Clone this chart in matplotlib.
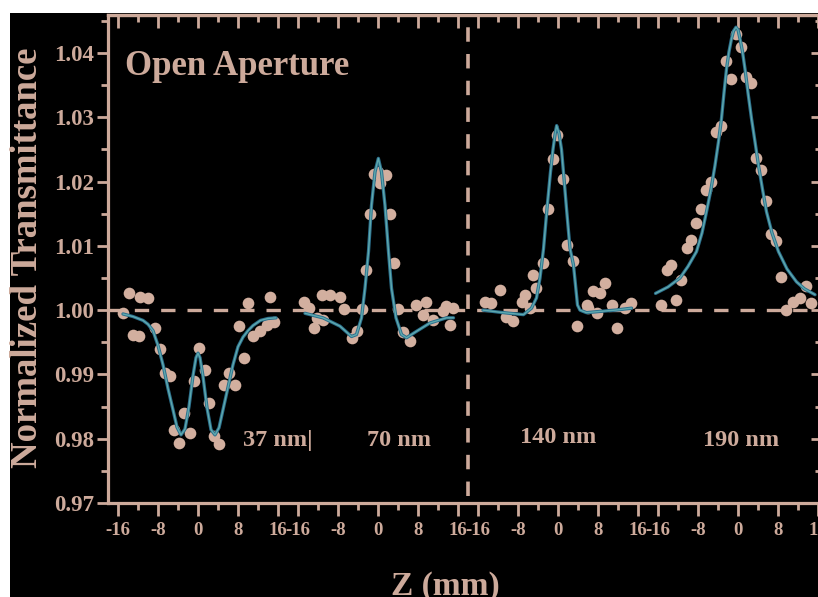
import matplotlib
matplotlib.use("Agg")
import matplotlib.pyplot as plt
from matplotlib.patches import Rectangle
from matplotlib.ticker import FixedLocator, FixedFormatter

# ---------------- data (z in mm, normalized transmittance) ----------------
panel_names = ["37 nm", "70 nm", "140 nm", "190 nm"]
panel_offsets = [16, 52, 88, 124]          # position of z=0 of each panel on the joined axis

p1_z = [-15.0, -13.9, -13.0, -11.9, -11.6, -10.0, -8.6, -7.7, -6.6, -5.6, -4.9, -3.9, -2.9, -1.6,
        -0.9, 0.1, 1.4, 2.1, 3.1, 4.1, 5.1, 6.1, 7.4, 8.1, 9.1, 10.1, 11.1, 12.4, 13.7, 14.4, 15.1]
p1_t = [0.9995, 1.0026, 0.9962, 0.9960, 1.0021, 1.0019, 0.9972, 0.9940, 0.9902, 0.9897, 0.9814,
        0.9794, 0.9840, 0.9809, 0.9889, 0.9941, 0.9907, 0.9856, 0.9804, 0.9791, 0.9884, 0.9902,
        0.9884, 0.9975, 0.9926, 1.0011, 0.9959, 0.9967, 0.9977, 1.0021, 0.9982]

p2_z = [-14.9, -13.9, -12.9, -12.3, -11.3, -11.0, -9.6, -7.6, -6.9, -5.3, -4.3, -3.3, -2.4, -1.6,
        -0.9, 0.07, 0.4, 1.7, 2.4, 3.3, 4.1, 5.1, 6.4, 7.7, 9.1, 9.7, 11.1, 13.1, 13.7, 14.4, 15.1]
p2_t = [1.0013, 1.0003, 0.9972, 0.9988, 1.0024, 0.9985, 1.0024, 1.0021, 1.0002, 0.9957, 0.9968,
        1.0002, 1.0063, 1.0149, 1.0212, 1.0215, 1.0197, 1.0210, 1.0149, 1.0073, 1.0002, 0.9966,
        0.9952, 1.0008, 0.9993, 1.0013, 0.9985, 0.9998, 1.0006, 0.9977, 1.0003]

p3_z = [-14.6, -13.3, -11.6, -10.3, -8.9, -7.3, -6.6, -5.6, -5.1, -4.4, -2.9, -1.9, -1.1, -0.3,
        0.9, 1.7, 2.9, 3.7, 5.7, 6.1, 7.1, 7.7, 8.4, 9.4, 10.7, 11.7, 13.4, 14.7]
p3_t = [1.0013, 1.0011, 1.0032, 0.9990, 0.9983, 1.0013, 1.0024, 1.0003, 1.0055, 1.0034, 1.0074,
        1.0158, 1.0235, 1.0272, 1.0204, 1.0101, 1.0076, 0.9975, 1.0008, 1.0003, 1.0029, 0.9995,
        1.0026, 1.0042, 1.0008, 0.9972, 1.0003, 1.0011]

p4_z = [-15.3, -14.1, -13.3, -12.3, -11.3, -10.1, -9.3, -8.3, -7.3, -6.3, -5.3, -4.3, -3.3, -2.3,
        -1.3, -0.4, 0.7, 1.7, 2.7, 3.6, 4.7, 5.6, 6.7, 7.7, 8.7, 9.7, 11.1, 12.4, 13.7, 14.7]
p4_t = [1.0008, 1.0062, 1.0070, 1.0016, 1.0047, 1.0096, 1.0109, 1.0136, 1.0158, 1.0187, 1.0200,
        1.0277, 1.0287, 1.0388, 1.0360, 1.0429, 1.0409, 1.0362, 1.0354, 1.0236, 1.0218, 1.0170,
        1.0119, 1.0107, 1.0051, 1.0000, 1.0013, 1.0019, 1.0037, 1.0011]

# fitted curves
f1_z = [-15.0, -13.0, -11.0, -10.0, -9.0, -8.0, -7.0, -6.0, -5.0, -4.2, -3.4, -2.6, -1.8, -1.0,
        -0.4, 0.0, 0.4, 1.0, 1.8, 2.6, 3.4, 4.2, 5.0, 6.0, 7.0, 8.0, 9.0, 10.0, 11.0, 12.5, 14.0, 15.6]
f1_t = [0.9994, 0.9990, 0.9984, 0.9978, 0.9968, 0.9945, 0.9915, 0.9878, 0.9845, 0.9818, 0.9806,
        0.9815, 0.9850, 0.9898, 0.9926, 0.9933, 0.9926, 0.9897, 0.9848, 0.9814, 0.9806, 0.9817,
        0.9845, 0.9880, 0.9915, 0.9943, 0.9958, 0.9968, 0.9976, 0.9984, 0.9987, 0.9988]

f2_z = [-14.6, -11.0, -7.6, -5.3, -4.3, -3.3, -2.6, -1.9, -1.3, -0.6, 0.07, 0.7, 1.4, 2.1, 2.7,
        3.6, 4.7, 5.7, 7.7, 10.4, 13.7, 15.1]
f2_t = [0.9995, 0.9988, 0.9975, 0.9959, 0.9962, 0.9988, 1.0034, 1.0091, 1.0163, 1.0215, 1.0236,
        1.0215, 1.0163, 1.0091, 1.0034, 0.9988, 0.9962, 0.9957, 0.9967, 0.9980, 0.9988, 0.9988]

f3_z = [-15.0, -12.0, -9.6, -6.9, -5.3, -4.3, -3.6, -2.9, -2.2, -1.5, -1.0, -0.5, -0.27, 0.2, 0.7,
        1.2, 1.7, 2.4, 3.1, 3.9, 4.4, 5.7, 8.4, 11.5, 14.7]
f3_t = [1.0000, 0.9997, 0.9995, 0.9993, 1.0003, 1.0019, 1.0050, 1.0095, 1.0158, 1.0215, 1.0250,
        1.0278, 1.0287, 1.0275, 1.0250, 1.0205, 1.0158, 1.0096, 1.0070, 1.0008, 1.0000, 0.9996,
        0.9998, 1.0000, 1.0003]

f4_z = [-16.5, -14.0, -11.6, -10.0, -8.3, -7.2, -6.3, -5.4, -4.6, -3.9, -3.3, -2.8, -2.3, -1.8,
        -1.3, -0.9, -0.4, 0.0, 0.4, 0.9, 1.4, 2.0, 2.7, 3.4, 4.1, 4.9, 5.7, 6.8, 8.1, 9.8, 11.7, 13.3, 15.4]
f4_t = [1.0026, 1.0036, 1.0050, 1.0068, 1.0091, 1.0120, 1.0153, 1.0188, 1.0225, 1.0262, 1.0298,
        1.0338, 1.0375, 1.0402, 1.0422, 1.0434, 1.0440, 1.0436, 1.0422, 1.0402, 1.0375, 1.0338,
        1.0298, 1.0262, 1.0225, 1.0188, 1.0153, 1.0120, 1.0091, 1.0064, 1.0044, 1.0033, 1.0024]

z_major = [-16, -8, 0, 8, 16]
z_minor = [-12, -4, 4, 12]
z_labels = ["-16", "-8", "0", "8", "16"]
y_major = [0.97, 0.98, 0.99, 1.00, 1.01, 1.02, 1.03, 1.04]
y_labels = ["0.97", "0.98", "0.99", "1.00", "1.01", "1.02", "1.03", "1.04"]
y_minor = [0.975, 0.985, 0.995, 1.005, 1.015, 1.025, 1.035, 1.045]

# ---------------- style ----------------
TAN = "#CDAA9B"
DOT = "#D2AF9F"
SERIF = ["Liberation Serif", "DejaVu Serif"]
W, H = 818, 597

fig = plt.figure(figsize=(W / 100, H / 100), dpi=100, facecolor="white")
fig.patches.append(Rectangle((10 / W, 0), 1 - 10 / W, (H - 13) / H, transform=fig.transFigure,
                             facecolor="black", edgecolor="none", zorder=-10))

ax = fig.add_axes([108 / W, (H - 503) / H, 714 / W, 488 / H])
ax.set_facecolor("black")
ax.set_xlim(-2, 140.8)
ax.set_ylim(0.97, 1.0459)

data = [(p1_z, p1_t, f1_z, f1_t), (p2_z, p2_t, f2_z, f2_t),
        (p3_z, p3_t, f3_z, f3_t), (p4_z, p4_t, f4_z, f4_t)]

# reference lines
ax.axhline(1.0, color=TAN, lw=2.4, dashes=(4.3, 3.6), zorder=1)
ax.axvline((panel_offsets[1] + panel_offsets[2]) / 2, ymin=0.015, ymax=0.985,
           color=TAN, lw=2.6, dashes=(4.0, 3.4), zorder=1)

for off, (pz, pt, fz, ft) in zip(panel_offsets, data):
    ax.plot([off + z for z in pz], pt, "o", ms=8.4, color=DOT, mec="none", zorder=3)
    ax.plot([off + z for z in fz], ft, "-", color="#2B6F8C", lw=2.4, zorder=4,
            solid_capstyle="round", solid_joinstyle="round")
    ax.plot([off + z for z in fz], ft, "-", color="#5FA9AE", lw=1.0, zorder=5,
            solid_capstyle="round", solid_joinstyle="round")

# ticks
xmaj = [off + z for off in panel_offsets for z in z_major]
xmin = [off + z for off in panel_offsets for z in z_minor]
xlab = [lab for off in panel_offsets for lab in z_labels]
ax.xaxis.set_major_locator(FixedLocator(xmaj))
ax.xaxis.set_major_formatter(FixedFormatter(xlab))
ax.xaxis.set_minor_locator(FixedLocator(xmin))
ax.yaxis.set_major_locator(FixedLocator(y_major))
ax.yaxis.set_major_formatter(FixedFormatter(y_labels))
ax.yaxis.set_minor_locator(FixedLocator(y_minor))

ax.tick_params(axis="x", which="major", direction="out", length=9, width=2.0, color=TAN,
               labelcolor=TAN, labelsize=13.5, pad=5, top=False)
ax.tick_params(axis="x", which="minor", direction="out", length=5, width=2.0, color=TAN, top=False)
ax.tick_params(axis="y", which="major", direction="out", length=8, width=2.0, color=TAN,
               labelcolor=TAN, labelsize=16.5, pad=2, right=False)
ax.tick_params(axis="y", which="minor", direction="out", length=5, width=2.0, color=TAN, right=False)
for lab in ax.get_xticklabels() + ax.get_yticklabels():
    lab.set_fontfamily(SERIF)
    lab.set_fontweight("bold")

top = ax.secondary_xaxis("top")
top.xaxis.set_major_locator(FixedLocator(xmaj))
top.xaxis.set_minor_locator(FixedLocator(xmin))
top.tick_params(which="major", direction="in", length=9, width=2.0, color=TAN, labeltop=False)
top.tick_params(which="minor", direction="in", length=5, width=2.0, color=TAN)
right = ax.secondary_yaxis("right")
right.yaxis.set_major_locator(FixedLocator(y_major))
right.yaxis.set_minor_locator(FixedLocator(y_minor))
right.tick_params(which="major", direction="in", length=8, width=2.0, color=TAN, labelright=False)
right.tick_params(which="minor", direction="in", length=5, width=2.0, color=TAN)
for a in (ax, top, right):
    for s in a.spines.values():
        s.set_color(TAN)
        s.set_linewidth(2.3)

# texts
ax.text(0.024, 0.877, "Open Aperture", transform=ax.transAxes, color=TAN, fontsize=25,
        fontfamily=SERIF, fontweight="bold", ha="left", va="baseline")
label_pos = [(25.0, 0.9789), (49.8, 0.9789), (80.4, 0.97938), (117.0, 0.9789)]
label_txt = [panel_names[0] + "|", panel_names[1], panel_names[2], panel_names[3]]
for (lx, ly), t in zip(label_pos, label_txt):
    ax.text(lx, ly, t, color=TAN, fontsize=17.5, fontfamily=SERIF, fontweight="bold",
            ha="left", va="baseline")

fig.text(28 / W, 1 - 257.5 / H, "Normalized Transmittance", rotation=90, color=TAN,
         fontsize=26.5, fontfamily=SERIF, fontweight="bold", ha="center", va="center")
fig.text(445 / W, 2 / H, "Z (mm)", color=TAN, fontsize=24, fontfamily=SERIF,
         fontweight="bold", ha="center", va="baseline")

fig.savefig("out.png", dpi=100, facecolor="white")
